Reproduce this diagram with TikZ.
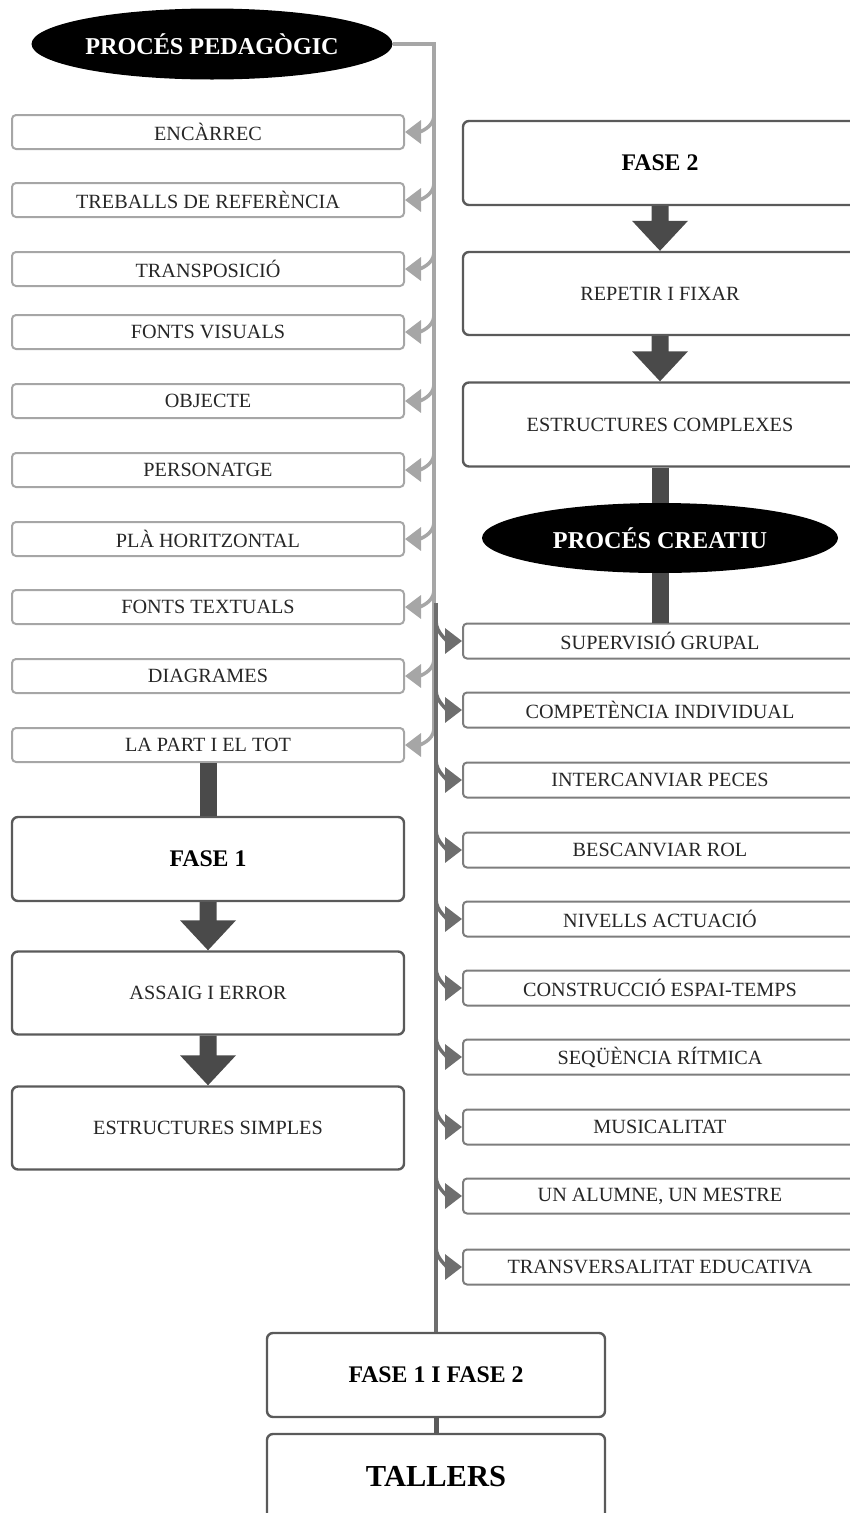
\documentclass[tikz,border=0pt]{standalone}
\usepackage{fontspec}
\setmainfont{Liberation Serif}
\usetikzlibrary{shapes.geometric,arrows.meta,calc}
\definecolor{lightg}{HTML}{A6A6A6}
\definecolor{midg}{HTML}{6E6E6E}
\definecolor{darkg}{HTML}{4A4A4A}
\definecolor{boxline}{HTML}{5A5A5A}
\definecolor{txt}{HTML}{262626}
\newcommand\blkarrow[2]{\fill[blk] ($(#1.south)+(-8.5,0)$) -- ($(#1.south)+(8.5,0)$) -- ($(#2.north)+(8.5,30)$) -- ($(#2.north)+(28,30)$) -- (#2.north) -- ($(#2.north)+(-28,30)$) -- ($(#2.north)+(-8.5,30)$) -- cycle;}
\begin{document}
\begin{tikzpicture}[x=1pt,y=1pt,
 smallL/.style={draw=lightg, line width=2pt, rounded corners=4pt, minimum width=392pt, minimum height=34pt, inner sep=0pt, text=txt, font=\fontsize{20.2}{21}\selectfont},
 smallR/.style={smallL, draw=midg!90, minimum width=394pt, minimum height=35pt},
 bigL/.style={draw=boxline, line width=2.4pt, rounded corners=6pt, minimum width=392pt, inner sep=0pt, text=txt, font=\fontsize{20.2}{21}\selectfont},
 bigR/.style={bigL, minimum width=394pt},
 blob/.style={ellipse, fill=black, inner sep=0pt, text=white, font=\fontsize{24.2}{25}\selectfont\bfseries},
 lightline/.style={draw=lightg, line width=4pt},
 darkline/.style={draw=midg, line width=4pt},
 larrow/.style={draw=lightg, line width=3.5pt, -{Triangle[width=23pt,length=16pt]}},
 rarrow/.style={draw=midg, line width=3.5pt, -{Triangle[width=25pt,length=17pt]}},
 bar/.style={draw=darkg, line width=17pt},
 blk/.style={fill=darkg}
]
\useasboundingbox (0,0) rectangle (850,-1513);

% ---- top ellipse
\node[blob, minimum width=361pt, minimum height=71pt] (ped) at (212,-44) {PROCÉS PEDAGÒGIC};

% ---- left small boxes
\node[smallL] (enc)    at (208,-132) {ENCÀRREC};
\node[smallL] (treb)   at (208,-200) {TREBALLS DE REFERÈNCIA};
\node[smallL] (trans)  at (208,-269) {TRANSPOSICIÓ};
\node[smallL] (fvis)   at (208,-332) {FONTS VISUALS};
\node[smallL] (obj)    at (208,-401) {OBJECTE};
\node[smallL] (pers)   at (208,-470) {PERSONATGE};
\node[smallL] (pla)    at (208,-539) {PLÀ HORITZONTAL};
\node[smallL] (ftext)  at (208,-607) {FONTS TEXTUALS};
\node[smallL] (diag)   at (208,-676) {DIAGRAMES};
\node[smallL] (lapart) at (208,-745) {LA PART I EL TOT};

% ---- left big boxes
\node[bigL, minimum height=84pt] (fase1)   at (208,-859)  {\fontsize{23.8}{24}\selectfont\bfseries\color{black}FASE 1};
\node[bigL, minimum height=83pt] (assaig)  at (208,-993)  {ASSAIG I ERROR};
\node[bigL, minimum height=83pt] (estsimp) at (208,-1128) {ESTRUCTURES SIMPLES};

% ---- right big boxes
\node[bigR, minimum height=84pt] (fase2)   at (660,-163)   {\fontsize{23.8}{24}\selectfont\bfseries\color{black}FASE 2};
\node[bigR, minimum height=83pt] (repetir) at (660,-293.5) {REPETIR I FIXAR};
\node[bigR, minimum height=84pt] (estcomp) at (660,-424.5) {ESTRUCTURES COMPLEXES};

\node[blob, minimum width=356pt, minimum height=70pt] (creatiu) at (660,-538) {PROCÉS CREATIU};

% ---- right small boxes
\node[smallR] (sup)   at (660,-641)  {SUPERVISIÓ GRUPAL};
\node[smallR] (comp)  at (660,-710)  {COMPETÈNCIA INDIVIDUAL};
\node[smallR] (inter) at (660,-780)  {INTERCANVIAR PECES};
\node[smallR] (besc)  at (660,-850)  {BESCANVIAR ROL};
\node[smallR] (niv)   at (660,-919)  {NIVELLS ACTUACIÓ};
\node[smallR] (cons)  at (660,-988)  {CONSTRUCCIÓ ESPAI-TEMPS};
\node[smallR] (seq)   at (660,-1057) {SEQÜÈNCIA RÍTMICA};
\node[smallR] (mus)   at (660,-1127) {MUSICALITAT};
\node[smallR] (alum)  at (660,-1196) {UN ALUMNE, UN MESTRE};
\node[smallR] (transv) at (660,-1267) {TRANSVERSALITAT EDUCATIVA};

% ---- bottom boxes
\node[bigL, minimum width=338pt, minimum height=84pt] (fase12) at (436,-1375) {\fontsize{23.8}{24}\selectfont\bfseries\color{black}FASE 1 I FASE 2};
\node[bigL, minimum width=338pt, minimum height=86pt] (tallers) at (436,-1477) {\fontsize{30.5}{31}\selectfont\bfseries\color{black}TALLERS};

% ---- light vertical line and left branches
\coordinate (lc) at (434,-44);
\coordinate (le) at (434,-728);
\draw[lightline] (ped.east) -- (lc) -- (le);
\foreach \n/\y in {enc/132,treb/200,trans/269,fvis/332,obj/401,pers/470,pla/539,ftext/607,diag/676,lapart/745}{
  \coordinate (b\n) at (434,-\y+17);
  \draw[larrow] (b\n) to[out=-90,in=0] (\n.east);
}

% ---- dark vertical line and right branches
\coordinate (dtop) at (436,-603);
\draw[darkline] (dtop) -- (fase12.north);
\foreach \n/\y in {sup/641,comp/710,inter/780,besc/850,niv/919,cons/988,seq/1057,mus/1127,alum/1196,transv/1267}{
  \coordinate (r\n) at (436,-\y+20);
  \draw[rarrow] (r\n) to[out=-90,in=180] (\n.west);
}

% ---- bars and block arrows
\draw[bar] (lapart.south) -- (fase1.north);
\blkarrow{fase1}{assaig}
\blkarrow{assaig}{estsimp}
\blkarrow{fase2}{repetir}
\blkarrow{repetir}{estcomp}
\draw[bar] (estcomp.south) -- (creatiu.north);
\draw[bar] (creatiu.south) -- (sup.north);
\draw[draw=boxline, line width=5pt] (fase12.south) -- (tallers.north);
\end{tikzpicture}
\end{document}
